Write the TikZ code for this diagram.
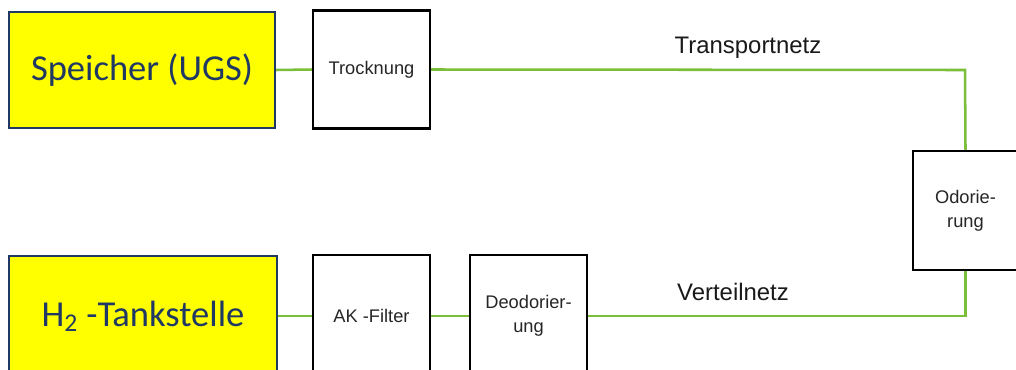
\documentclass[tikz,border=0pt]{standalone}
\usepackage{fontspec}
\setmainfont{Liberation Sans}
\newfontfamily\carlito{Carlito}
\definecolor{gasgreen}{RGB}{122,190,58}
\definecolor{navy}{RGB}{31,56,100}
\definecolor{boxyellow}{RGB}{255,255,0}
\tikzset{
  bigbox/.style={draw=navy, line width=1.5pt, fill=boxyellow, inner sep=0pt,
    font=\carlito\fontsize{26}{30}\selectfont, text=navy},
  stepbox/.style={draw=black, line width=1.5pt, fill=white, inner sep=0pt,
    minimum width=2.925cm, align=center, text=black!85,
    font=\fontsize{13}{17}\selectfont},
  pipe/.style={draw=gasgreen, line width=1.8pt},
  netlabel/.style={font=\fontsize{17}{20}\selectfont, text=black!90}
}
\begin{document}
\begin{tikzpicture}[x=0.025cm, y=-0.025cm]
		\useasboundingbox (0,0) rectangle (1016,369);
		\clip (0,0) rectangle (1016,369);
		
		% DRAW THE PIPES
		\coordinate (corner) at (965,70);
		
		% DRAW THE BOXES
		\node[bigbox, minimum width=6.65cm, minimum height=2.9cm] (speicher) at (142,70) {Speicher (UGS)};
		\node[stepbox, minimum height=2.95cm] (trocknung) at (371.5,69.5) {Trocknung};
		\node[stepbox, minimum width=2.625cm, minimum height=2.975cm] (odor) at (965.5,210.5) {Odorie-\\rung};
		\node[bigbox, minimum width=6.7cm, minimum height=3cm] (tank) at (143,316) {H\textsubscript{2} -Tankstelle};
		\node[stepbox, minimum height=3.05cm] (akfilter) at (371.5,316) {AK -Filter};
		\node[stepbox, minimum height=3.05cm] (deodor) at (528.5,316) {Deodorier-\\ung};
		
		\draw[pipe] (speicher.east) -- (trocknung.west);
		\draw[pipe] (trocknung.east) -- (corner) -- (odor.north);
		\draw[pipe] (odor.south) |- (deodor.east);
		\draw[pipe] (tank.east) -- (akfilter.west);
		\draw[pipe] (akfilter.east) -- (deodor.west);
		
		% LABELS
		\node[netlabel] (transport) at (748,48) {Transportnetz};
		\node[netlabel] (verteil) at (733,292) {Verteilnetz};
	\end{tikzpicture}
\end{document}
